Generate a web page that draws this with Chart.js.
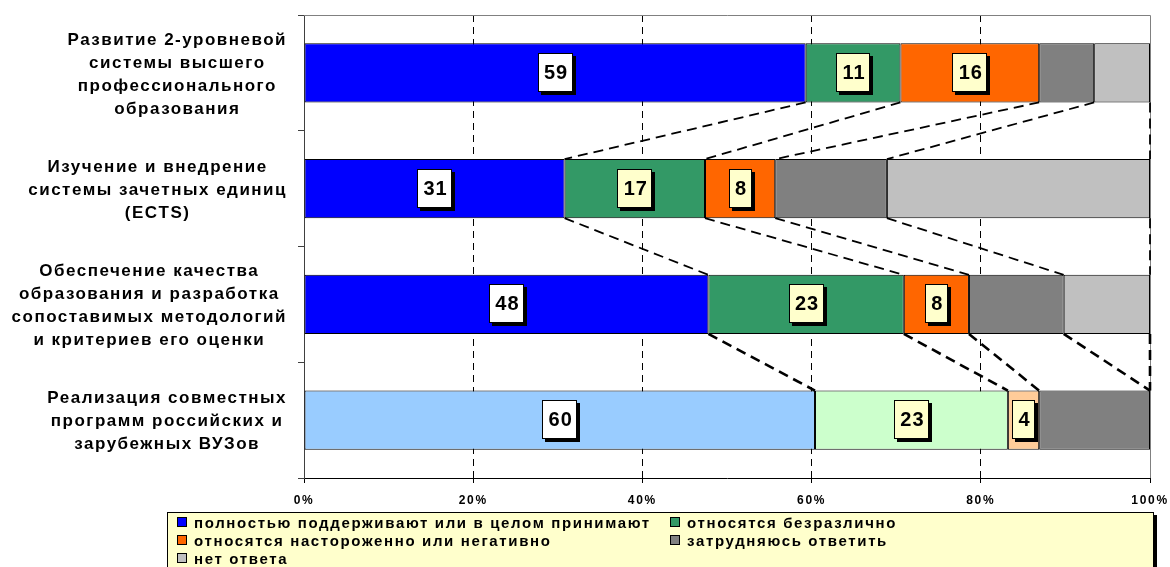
<!DOCTYPE html>
<html>
<head>
<meta charset="utf-8">
<script src="https://cdn.jsdelivr.net/npm/chart.js@4"></script>
<style>
  body { margin: 0; background: #fff; }
  #wrap { position: relative; width: 1170px; height: 567px; overflow: hidden; }
  #legend {
    position: absolute; left: 167px; top: 512px; width: 987px; height: 80px;
    box-sizing: border-box; background: #FFFFCC; border: 1px solid #000;
    box-shadow: 3px 3px 0 #000;
    font: bold 15px 'Liberation Sans', Arial, sans-serif; letter-spacing: 1.65px;
    display: grid; grid-template-columns: 493px auto; grid-auto-rows: 18px;
  }
  .item { display: flex; align-items: center; padding-left: 9px; white-space: nowrap; }
  .sw { width: 8px; height: 8px; border: 1px solid #000; margin-right: 7px; flex: none; }
</style>
</head>
<body>
<div id="wrap">
  <canvas id="myChart" width="1170" height="567"></canvas>
  <div id="legend"></div>
</div>
<script>
const catLines = [
  ['Развитие 2-уровневой', 'системы высшего', 'профессионального', 'образования'],
  ['Изучение и внедрение', 'системы зачетных единиц', '(ECTS)'],
  ['Обеспечение качества', 'образования и разработка', 'сопоставимых методологий', 'и критериев его оценки'],
  ['Реализация совместных', 'программ российских и', 'зарубежных ВУЗов'],
];

const seriesNames = [
  'полностью поддерживают или в целом принимают',
  'относятся безразлично',
  'относятся настороженно или негативно',
  'затрудняюсь ответить',
  'нет ответа',
];

// values in % per category (top to bottom)
const supportVals  = [59.3, 30.8, 47.8, 60.4];
const neutralVals  = [11.2, 16.6, 23.1, 22.8];
const negativeVals = [16.4, 8.3, 7.7, 3.7];
const unsureVals   = [6.5, 13.2, 11.2, 13.1];
const noAnswerVals = [6.6, 31.1, 10.2, 0];

const xTicks = [0, 20, 40, 60, 80, 100];

const seriesVals = [supportVals, neutralVals, negativeVals, unsureVals, noAnswerVals];
const mainColors  = ['#0000FF', '#339966', '#FF6600', '#808080', '#C0C0C0'];
const lightColors = ['#99CCFF', '#CCFFCC', '#FFCC99', '#808080', '#C0C0C0'];
const boxFill = ['#FFFFFF', '#FFFFCC', '#FFFFCC'];
const lightRow = 3;
const FONT = "'Liberation Sans', Arial, sans-serif";

const datasets = seriesVals.map((vals, s) => ({
  label: seriesNames[s],
  data: vals,
  backgroundColor: vals.map((v, i) => i === lightRow ? lightColors[s] : mainColors[s]),
  borderColor: '#000',
  borderWidth: 1,
  borderSkipped: false,
  barPercentage: 0.51,
  categoryPercentage: 1,
}));

// top + right edge of plot area
const plotFrame = {
  id: 'plotFrame',
  beforeDraw(chart) {
    chart.ctx.letterSpacing = '1.7px';
  },
  beforeDatasetsDraw(chart) {
    const {ctx, chartArea: a} = chart;
    ctx.save();
    ctx.strokeStyle = '#808080';
    ctx.lineWidth = 1;
    ctx.beginPath();
    ctx.moveTo(a.left, a.top + 0.5);
    ctx.lineTo(a.right + 0.5, a.top + 0.5);
    ctx.lineTo(a.right + 0.5, a.bottom);
    ctx.stroke();
    ctx.restore();
  }
};

// dashed lines joining the segment ends of neighbouring bars
const seriesLines = {
  id: 'seriesLines',
  afterDatasetsDraw(chart) {
    const ctx = chart.ctx;
    ctx.save();
    ctx.strokeStyle = '#000';
    ctx.setLineDash([10, 6]);
    chart.data.datasets.forEach((ds, s) => {
      const bars = chart.getDatasetMeta(s).data;
      for (let i = 0; i < bars.length - 1; i++) {
        const a = bars[i], b = bars[i + 1];
        ctx.lineWidth = i === bars.length - 2 ? 2.6 : 1.8;
        ctx.beginPath();
        ctx.moveTo(a.x, a.y + a.height / 2);
        ctx.lineTo(b.x, b.y - b.height / 2);
        ctx.stroke();
      }
    });
    ctx.restore();
  }
};

// boxed value labels for the first three series
const valueBoxes = {
  id: 'valueBoxes',
  afterDatasetsDraw(chart) {
    const ctx = chart.ctx;
    ctx.save();
    ctx.font = 'bold 20px ' + FONT;
    ctx.letterSpacing = '1px';
    ctx.textAlign = 'center';
    ctx.textBaseline = 'middle';
    for (let s = 0; s < 3; s++) {
      chart.getDatasetMeta(s).data.forEach((el, i) => {
        const txt = String(Math.round(chart.data.datasets[s].data[i]));
        const cx = (el.x + el.base) / 2;
        const cy = el.y - 0.5;
        const w = Math.round(ctx.measureText(txt).width + 11);
        const h = 39;
        const x0 = Math.round(cx - w / 2), y0 = Math.round(cy - h / 2);
        ctx.fillStyle = '#000';
        ctx.fillRect(x0 + 3, y0 + 3, w, h);
        ctx.fillStyle = boxFill[s];
        ctx.fillRect(x0, y0, w, h);
        ctx.strokeStyle = '#000';
        ctx.lineWidth = 1;
        ctx.strokeRect(x0 + 0.5, y0 + 0.5, w - 1, h - 1);
        ctx.fillStyle = '#000';
        ctx.fillText(txt, cx + 1, cy + 1);
      });
    }
    ctx.restore();
  }
};

// centred multi-line category labels
const catLabels = {
  id: 'catLabels',
  afterDraw(chart) {
    const ctx = chart.ctx;
    const y = chart.scales.y;
    ctx.save();
    ctx.font = 'bold 17px ' + FONT;
    ctx.letterSpacing = '1.5px';
    ctx.fillStyle = '#000';
    ctx.textAlign = 'center';
    ctx.textBaseline = 'middle';
    catLines.forEach((lines, i) => {
      const widest = Math.max(...lines.map(l => ctx.measureText(l).width));
      const cx = y.right - 17 - widest / 2;
      const cy = y.getPixelForValue(i) + 1.5;
      lines.forEach((l, k) => {
        ctx.fillText(l, cx, cy + (k - (lines.length - 1) / 2) * 23);
      });
    });
    ctx.restore();
  }
};

const config = {
  type: 'bar',
  data: {
    labels: catLines.map(l => l.join(' ')),
    datasets: datasets,
  },
  options: {
    indexAxis: 'y',
    responsive: false,
    animation: false,
    layout: { padding: { top: 15, right: 20, bottom: 0, left: 0 } },
    plugins: {
      legend: { display: false },
      tooltip: { enabled: false },
    },
    scales: {
      x: {
        stacked: true,
        min: 0,
        max: 100,
        afterBuildTicks: (scale) => { scale.ticks = xTicks.map(v => ({ value: v })); },
        afterFit: (scale) => {
          scale.height = 89;
          scale.paddingLeft = 0;
          scale.paddingRight = 0;
        },
        ticks: {
          callback: (v) => v + '%',
          color: '#000',
          font: { family: FONT, size: 12, weight: 'bold' },
          padding: 10,
          maxRotation: 0,
        },
        grid: {
          color: (c) => (c.tick && (c.tick.value === 0 || c.tick.value === 100)) ? 'rgba(0,0,0,0)' : '#000',
          tickColor: '#000',
          tickLength: 5,
          lineWidth: 1,
        },
        border: { color: '#000', width: 1, dash: [7, 5] },
      },
      y: {
        stacked: true,
        afterFit: (scale) => { scale.width = 304; },
        ticks: { color: 'rgba(0,0,0,0)', font: { family: FONT, size: 16, weight: 'bold' } },
        grid: {
          drawOnChartArea: false,
          drawTicks: true,
          tickLength: 6,
          color: '#404040',
          offset: true,
        },
        border: { color: '#404040', width: 1 },
      },
    },
  },
  plugins: [plotFrame, seriesLines, valueBoxes, catLabels],
};

const myChart = new Chart(document.getElementById('myChart'), config);

// legend (2 columns, like the source)
const legendBox = document.getElementById('legend');
seriesNames.forEach((name, s) => {
  const item = document.createElement('div');
  item.className = 'item';
  const sw = document.createElement('span');
  sw.className = 'sw';
  sw.style.background = mainColors[s];
  item.appendChild(sw);
  item.appendChild(document.createTextNode(name));
  legendBox.appendChild(item);
});
</script>
</body>
</html>
